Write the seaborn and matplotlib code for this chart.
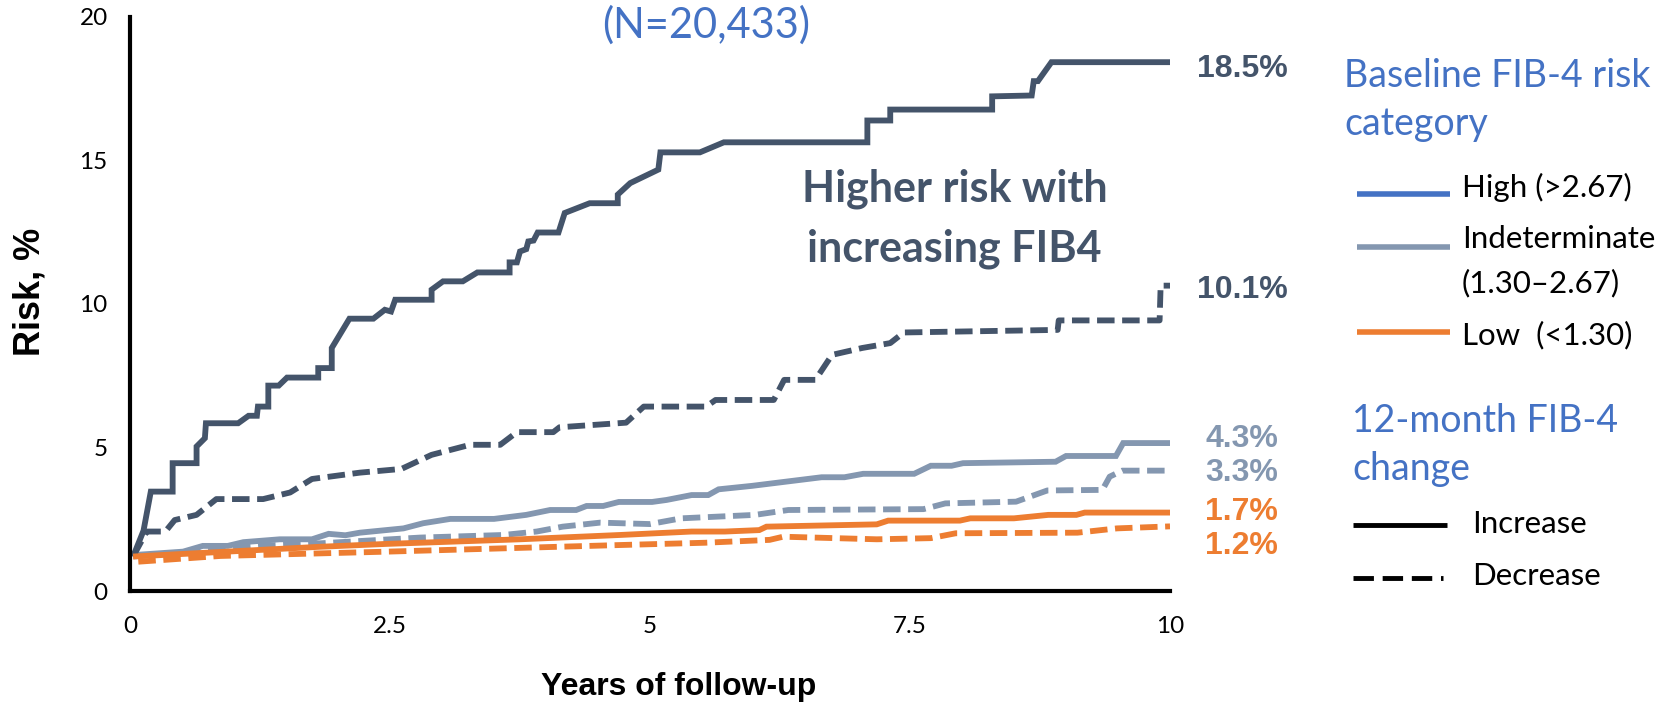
import numpy as np
import pandas as pd
import seaborn as sns
import matplotlib
matplotlib.use("Agg")
import matplotlib.pyplot as plt
from matplotlib.lines import Line2D

# ---------------- data ----------------
high_inc_t = [0.03, 0.13, 0.20, 0.41, 0.41, 0.64, 0.64, 0.72, 0.73, 1.04, 1.14, 1.22, 1.23, 1.33, 1.33,
              1.43, 1.51, 1.81, 1.81, 1.94, 1.94, 2.11, 2.34, 2.45, 2.51, 2.55, 2.90, 2.90, 3.01, 3.20,
              3.34, 3.65, 3.65, 3.72, 3.75, 3.81, 3.83, 3.88, 3.92, 4.12, 4.18, 4.42, 4.69, 4.69, 4.81,
              5.08, 5.10, 5.48, 5.71, 7.09, 7.09, 7.31, 7.31, 8.29, 8.29, 8.67, 8.69, 8.73, 8.86, 10.0]
high_inc_r = [1.2, 2.1, 3.46, 3.46, 4.45, 4.45, 5.03, 5.32, 5.84, 5.84, 6.1, 6.1, 6.42, 6.42, 7.15,
              7.15, 7.43, 7.43, 7.76, 7.76, 8.46, 9.48, 9.48, 9.79, 9.73, 10.14, 10.14, 10.49, 10.78, 10.78,
              11.09, 11.09, 11.44, 11.44, 11.82, 11.9, 12.17, 12.2, 12.48, 12.48, 13.16, 13.5, 13.5, 13.8, 14.2,
              14.67, 15.27, 15.27, 15.62, 15.62, 16.38, 16.38, 16.76, 16.76, 17.22, 17.25, 17.75, 17.75, 18.41, 18.41]

high_dec_t = [0.03, 0.16, 0.34, 0.43, 0.64, 0.83, 1.28, 1.54, 1.75, 2.21, 2.61, 2.90, 3.27, 3.56, 3.72,
              4.07, 4.13, 4.77, 4.94, 5.54, 5.63, 6.19, 6.29, 6.59, 6.75, 7.04, 7.31, 7.44, 8.92, 8.93,
              9.90, 9.91, 10.0]
high_dec_r = [1.2, 2.07, 2.07, 2.47, 2.65, 3.2, 3.2, 3.43, 3.9, 4.12, 4.25, 4.74, 5.09, 5.09, 5.53,
              5.53, 5.7, 5.86, 6.42, 6.42, 6.65, 6.65, 7.35, 7.35, 8.22, 8.46, 8.63, 9.0, 9.09, 9.42,
              9.42, 10.63, 10.63]

ind_inc_t = [0.03, 0.51, 0.70, 0.94, 1.09, 1.44, 1.75, 1.91, 2.07, 2.21, 2.63, 2.82, 3.08, 3.50, 3.81,
             4.04, 4.29, 4.39, 4.55, 4.70, 5.02, 5.16, 5.40, 5.56, 5.66, 5.98, 6.65, 6.87, 7.05, 7.54,
             7.70, 7.90, 8.01, 8.90, 9.00, 9.48, 9.55, 10.0]
ind_inc_r = [1.25, 1.37, 1.57, 1.57, 1.70, 1.80, 1.80, 1.99, 1.94, 2.03, 2.18, 2.36, 2.51, 2.51, 2.65,
             2.82, 2.82, 2.96, 2.96, 3.10, 3.10, 3.17, 3.34, 3.34, 3.54, 3.66, 3.96, 3.96, 4.08, 4.08,
             4.36, 4.36, 4.45, 4.50, 4.70, 4.70, 5.15, 5.15]

ind_dec_t = [0.03, 0.60, 1.28, 1.83, 2.79, 3.59, 3.91, 4.16, 4.52, 4.71, 5.00, 5.30, 6.01, 6.33, 7.63,
             7.84, 8.52, 8.82, 9.35, 9.42, 9.54, 10.0]
ind_dec_r = [1.2, 1.38, 1.58, 1.66, 1.86, 1.95, 2.07, 2.24, 2.38, 2.36, 2.33, 2.53, 2.65, 2.82, 2.85,
             3.05, 3.11, 3.50, 3.52, 3.98, 4.19, 4.19]

low_inc_t = [0.03, 1.83, 2.47, 3.75, 4.71, 5.40, 5.72, 6.05, 6.12, 7.18, 7.29, 7.98, 8.08, 8.50, 8.83,
             9.10, 9.18, 10.0]
low_inc_r = [1.2, 1.54, 1.64, 1.80, 1.95, 2.07, 2.07, 2.12, 2.24, 2.32, 2.45, 2.45, 2.53, 2.53, 2.65,
             2.65, 2.73, 2.73]

low_dec_t = [0.08, 0.87, 2.47, 4.71, 5.53, 6.15, 6.28, 7.18, 7.70, 7.94, 9.11, 9.49, 10.0]
low_dec_r = [1.02, 1.22, 1.37, 1.60, 1.68, 1.78, 1.89, 1.80, 1.84, 2.01, 2.03, 2.18, 2.25]

categories = ["High", "Indeterminate", "Low"]
changes = ["Increase", "Decrease"]
end_labels = ["18.5%", "10.1%", "4.3%", "3.3%", "1.7%", "1.2%"]
end_label_y = [18.17, 10.47, 5.28, 4.11, 2.75, 1.57]
x_ticks = [0, 2.5, 5, 7.5, 10]
x_tick_labels = ["0", "2.5", "5", "7.5", "10"]
y_ticks = [0, 5, 10, 15, 20]
y_tick_labels = ["0", "5", "10", "15", "20"]

# ---------------- styling ----------------
DARK = "#44546A"
GREY = "#8497B0"
ORANGE = "#ED7D31"
BLUE = "#4472C4"
palette = {"High": DARK, "Indeterminate": GREY, "Low": ORANGE}
LW = 4.2
dash_map = {"Increase": "", "Decrease": (3.0, 1.3)}

sns.set_theme(style="white")
plt.rcParams["font.family"] = ["Lato", "DejaVu Sans"]
plt.rcParams["lines.linewidth"] = LW
plt.rcParams["lines.scale_dashes"] = True

series = [
    ("Indeterminate", "Decrease", ind_dec_t, ind_dec_r),
    ("Indeterminate", "Increase", ind_inc_t, ind_inc_r),
    ("High", "Decrease", high_dec_t, high_dec_r),
    ("High", "Increase", high_inc_t, high_inc_r),
    ("Low", "Decrease", low_dec_t, low_dec_r),
    ("Low", "Increase", low_inc_t, low_inc_r),
]
frames = []
for cat, chg, t, r in series:
    frames.append(pd.DataFrame({"t": t, "r": r, "category": cat, "change": chg}))
df = pd.concat(frames, ignore_index=True)

W, H = 1668, 703
fig = plt.figure(figsize=(W / 100, H / 100), dpi=100)
ax = fig.add_axes([130 / W, 1 - 591 / H, 1040 / W, 574.5 / H])

for cat, chg, t, r in series:
    sub = df[(df["category"] == cat) & (df["change"] == chg)]
    sns.lineplot(data=sub, x="t", y="r", hue="category", style="change",
                 palette=palette, dashes=dash_map, estimator=None, sort=False,
                 linewidth=LW, legend=False, ax=ax)

for line in ax.get_lines():
    line.set_linewidth(LW)
    line.set_solid_joinstyle("miter")
    line.set_dash_capstyle("butt")
    line.set_solid_capstyle("butt")

ax.set_xlim(0, 10)
ax.set_ylim(0, 20)
ax.set_xticks(x_ticks)
ax.set_xticklabels(x_tick_labels, fontsize=17.5)
ax.set_yticks(y_ticks)
ax.set_yticklabels(y_tick_labels, fontsize=17.5)
for side in ["top", "right"]:
    ax.spines[side].set_visible(False)
for side in ["left", "bottom"]:
    ax.spines[side].set_color("black")
    ax.spines[side].set_linewidth(3.0)
ax.tick_params(axis="both", which="major", direction="out", length=5, width=3.0,
               color="black", labelcolor="black")
ax.tick_params(axis="x", pad=13)
ax.tick_params(axis="y", pad=11)
ax.grid(False)
ax.set_xlabel("")
ax.set_ylabel("")

# end-of-curve labels
label_colors = [DARK, DARK, GREY, GREY, ORANGE, ORANGE]
label_x = [10.26, 10.26, 10.34, 10.34, 10.34, 10.34]
for txt, yv, xv, c in zip(end_labels, end_label_y, label_x, label_colors):
    ax.text(xv, yv, txt, color=c, fontsize=23, fontweight="bold",
            family=["Liberation Sans", "DejaVu Sans"], ha="left", va="center", clip_on=False)

# annotation
ax.text(7.93, 14.0, "Higher risk with", color=DARK, fontsize=31, fontweight="bold",
        ha="center", va="center")
ax.text(7.93, 11.9, "increasing FIB4", color=DARK, fontsize=31, fontweight="bold",
        ha="center", va="center")


def fx(x):
    return x / W


def fy(y):
    return 1 - y / H


# title fragment at top
fig.text(fx(706), fy(38), "(N=20,433)", color=BLUE, fontsize=30, ha="center", va="baseline")

# axis labels
fig.text(fx(30), fy(292), "Risk, %", rotation=90, fontsize=26, fontweight="bold",
         family=["Liberation Sans", "DejaVu Sans"], ha="center", va="center", color="black")
fig.text(fx(679), fy(695), "Years of follow-up", fontsize=23, fontweight="bold",
         family=["Liberation Sans", "DejaVu Sans"], ha="center", va="baseline", color="black")

# custom legend
fig.text(fx(1344), fy(76), "Baseline FIB-4 risk", color=BLUE, fontsize=27, ha="left", va="center")
fig.text(fx(1344), fy(124), "category", color=BLUE, fontsize=27, ha="left", va="center")

legend_rows = [
    (BLUE, 194, ["High (>2.67)"], [187]),
    (GREY, 247, ["Indeterminate", "(1.30\u20132.67)"], [239, 283]),
    (ORANGE, 332, ["Low  (<1.30)"], [335]),
]
for col, ly, texts, tys in legend_rows:
    fig.add_artist(Line2D([fx(1357), fx(1450)], [fy(ly), fy(ly)], transform=fig.transFigure,
                          color=col, lw=4, solid_capstyle="butt"))
    for tt, ty in zip(texts, tys):
        fig.text(fx(1462), fy(ty), tt, fontsize=22.5, ha="left", va="center", color="black")

fig.text(fx(1352), fy(421), "12-month FIB-4", color=BLUE, fontsize=27, ha="left", va="center")
fig.text(fx(1352), fy(469), "change", color=BLUE, fontsize=27, ha="left", va="center")

fig.add_artist(Line2D([fx(1353), fx(1447)], [fy(525), fy(525)], transform=fig.transFigure,
                      color="black", lw=3.5, solid_capstyle="butt"))
fig.add_artist(Line2D([fx(1353), fx(1443)], [fy(578), fy(578)], transform=fig.transFigure,
                      color="black", lw=3.5, linestyle=(0, (4.2, 1.8)), dash_capstyle="butt"))
fig.text(fx(1472), fy(524), "Increase", fontsize=22.5, ha="left", va="center", color="black")
fig.text(fx(1472), fy(576), "Decrease", fontsize=22.5, ha="left", va="center", color="black")

fig.savefig("out.png", dpi=100, facecolor="white")
